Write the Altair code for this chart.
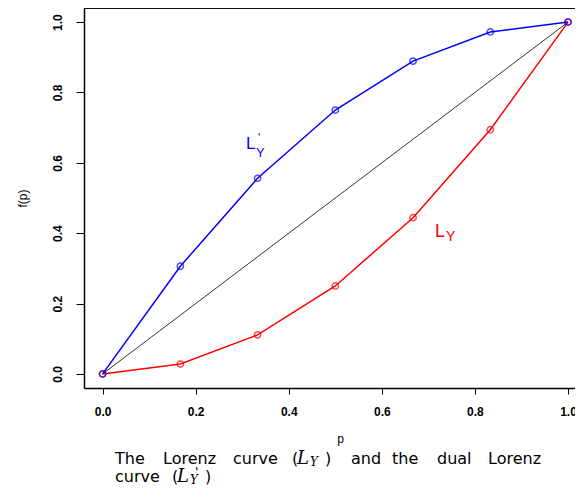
import altair as alt
import pandas as pd

# ---- data ----
p_values = [0.0, 0.167, 0.333, 0.5, 0.667, 0.833, 1.0]
lorenz_values = [0.0, 0.028, 0.111, 0.25, 0.444, 0.694, 1.0]
dual_values = [0.0, 0.306, 0.556, 0.75, 0.889, 0.972, 1.0]
diag_x = [0.0, 1.0]
diag_y = [0.0, 1.0]
tick_values = [0.0, 0.2, 0.4, 0.6, 0.8, 1.0]

red_df = pd.DataFrame({"p": p_values, "f": lorenz_values})
blue_df = pd.DataFrame({"p": p_values, "f": dual_values})
diag_df = pd.DataFrame({"p": diag_x, "f": diag_y})

W, H = 491, 380

xscale = alt.Scale(domain=[-0.04, 1.015], nice=False, zero=False)
yscale = alt.Scale(domain=[-0.04, 1.04], nice=False, zero=False)

xaxis = alt.Axis(
    values=tick_values, format=".1f", grid=False,
    labelFont="Liberation Sans", labelFontWeight="bold", labelFontSize=12,
    labelColor="black", labelPadding=12, labelFlush=False, labelOverlap=False,
    tickSize=6, tickColor="black", tickWidth=1,
    domain=True, domainColor="black", domainWidth=1.5,
    title="p", titleFont="Liberation Sans", titleFontWeight="normal",
    titleFontSize=12, titleColor="black", titleX=256, titleY=54,
    titleBaseline="alphabetic",
)
yaxis = alt.Axis(
    values=tick_values, format=".1f", grid=False,
    labelFont="Liberation Sans", labelFontWeight="bold", labelFontSize=12,
    labelColor="black", labelAngle=270, labelAlign="center",
    labelBaseline="alphabetic", labelPadding=15, labelFlush=False,
    labelOverlap=False,
    tickSize=8, tickColor="black", tickWidth=1,
    domain=True, domainColor="black", domainWidth=1.5,
    title="f(p)", titleFont="Liberation Sans", titleFontWeight="normal",
    titleFontSize=12, titleColor="black", titleAngle=270, titleX=-58,
    titleY=H / 2, titleAlign="center", titleBaseline="alphabetic",
)

base_x = alt.X("p:Q", scale=xscale, axis=xaxis)
base_y = alt.Y("f:Q", scale=yscale, axis=yaxis)

diag = alt.Chart(diag_df).mark_line(color="black", strokeWidth=0.8).encode(
    x=base_x, y=base_y)

red_line = alt.Chart(red_df).mark_line(color="#ff0000", strokeWidth=1.5).encode(
    x=base_x, y=base_y)
red_pts = alt.Chart(red_df).mark_point(
    shape="circle", filled=False, color="#ff0000", size=40, strokeWidth=1.5
).encode(x=base_x, y=base_y)
blue_line = alt.Chart(blue_df).mark_line(color="#0000ff", strokeWidth=1.5).encode(
    x=base_x, y=base_y)
blue_pts = alt.Chart(blue_df).mark_point(
    shape="circle", filled=False, color="#0000ff", size=40, strokeWidth=1.5
).encode(x=base_x, y=base_y)

top_border = alt.Chart(diag_df).mark_rule(color="black", strokeWidth=1.5).encode(
    x=alt.value(0), x2=alt.value(W), y=alt.value(0))


def txt(s, x, y, size, color="black", font="Liberation Sans", style="normal",
        align="left"):
    return alt.Chart(diag_df).transform_filter("datum.p == 0").mark_text(
        text=s, font=font, fontSize=size, fontStyle=style, color=color,
        align=align, baseline="alphabetic",
    ).encode(x=alt.value(x), y=alt.value(y))


labels = [
    txt("L", 162, 141, 17, "#0000ff"),
    txt("Y", 172, 149, 13, "#0000ff"),
    txt("'", 174, 134, 12, "#0000ff"),
    txt("L", 351, 229, 18, "#ff0000"),
    txt("Y", 362, 233, 14, "#ff0000"),
]

cap_font = "DejaVu Sans"
math_font = "DejaVu Serif"
cs = 16
cap1 = 456
cap2 = 474
caption = [
    txt("The", 31, cap1, cs, font=cap_font),
    txt("Lorenz", 79, cap1, cs, font=cap_font),
    txt("curve", 149, cap1, cs, font=cap_font),
    txt("(", 208, cap1, cs, font=cap_font),
    txt("L", 213, cap1, 18, font=math_font, style="italic"),
    txt("Y", 226, cap1 + 2, 12, font=math_font, style="italic"),
    txt(")", 241, cap1, cs, font=cap_font),
    txt("and", 267, cap1, cs, font=cap_font),
    txt("the", 308, cap1, cs, font=cap_font),
    txt("dual", 353, cap1, cs, font=cap_font),
    txt("Lorenz", 404, cap1, cs, font=cap_font),
    txt("curve", 31, cap2, cs, font=cap_font),
    txt("(", 88, cap2, cs, font=cap_font),
    txt("L", 93, cap2, 18, font=math_font, style="italic"),
    txt("'", 111, cap2 - 6, 13, font=cap_font),
    txt("Y", 106, cap2 + 2, 12, font=math_font, style="italic"),
    txt(")", 121, cap2, cs, font=cap_font),
]

chart = alt.layer(
    diag, red_line, red_pts, blue_line, blue_pts, top_border, *labels, *caption
).properties(
    width=W, height=H,
    autosize=alt.AutoSizeParams(type="none"),
    padding={"left": 76, "top": 0, "right": 0, "bottom": 98},
).configure_view(stroke=None).configure(background="white")

chart.save("out.html", embed_options={"renderer": "svg", "actions": False})
